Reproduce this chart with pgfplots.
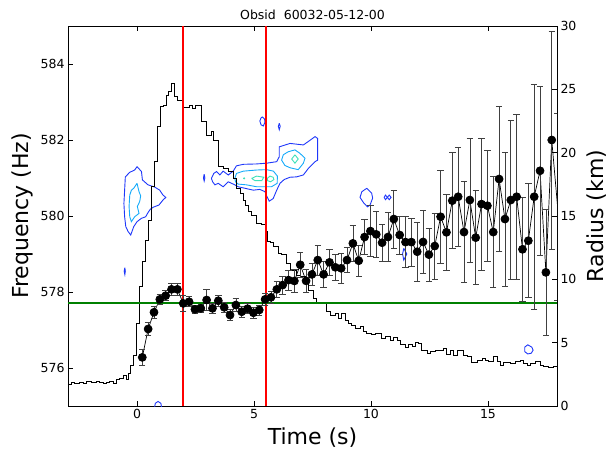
\documentclass[border=0pt]{standalone}
\usepackage{fontspec}
\setmainfont{DejaVu Sans}
\usepackage{pgfplots}
\usepackage{pgfplotstable}
\pgfplotsset{compat=1.18}

\definecolor{cblue}{RGB}{30,55,250}
\definecolor{ccyan}{RGB}{20,170,250}
\definecolor{cteal}{RGB}{60,225,185}
\definecolor{lgreen}{RGB}{0,128,0}
\definecolor{lred}{RGB}{255,0,0}

% light curve (scaled into frequency units), bin start times
\pgfplotstableread{
t f
-2.95 575.57
-2.80 575.61
-2.67 575.60
-2.45 575.62
-2.30 575.60
-2.17 575.64
-1.95 575.62
-1.74 575.64
-1.60 575.62
-1.45 575.60
-1.30 575.61
-1.17 575.64
-1.03 575.60
-0.88 575.70
-0.74 575.74
-0.60 575.80
-0.46 575.70
-0.39 575.86
-0.265 576.08
-0.14 576.34
-0.015 577.18
0.11 578.14
0.235 578.80
0.36 579.37
0.485 579.89
0.61 580.77
0.735 581.43
0.86 582.35
0.985 582.88
1.11 582.92
1.235 583.18
1.36 583.27
1.485 583.49
1.61 583.14
1.735 583.05
1.86 583.05
1.985 582.86
2.11 582.86
2.235 582.90
2.36 582.83
2.485 582.92
2.61 582.92
2.75 582.48
2.97 582.13
3.18 582.22
3.25 582.00
3.47 581.30
3.68 581.25
3.90 581.17
4.11 580.99
4.23 580.73
4.40 580.60
4.54 580.42
4.61 580.29
4.75 580.11
4.90 580.03
5.11 579.81
5.32 579.78
5.47 579.59
5.57 579.32
5.68 579.30
5.82 579.19
6.04 579.02
6.18 579.00
6.39 578.75
6.54 578.58
6.82 578.45
6.97 578.42
7.18 578.23
7.32 578.05
7.54 577.83
7.68 577.74
8.11 577.48
8.25 577.39
8.46 577.44
8.61 577.31
8.75 577.44
8.89 577.26
9.03 577.18
9.18 577.13
9.32 577.04
9.53 577.09
9.68 576.96
9.82 576.91
10.03 576.89
10.18 576.91
10.46 576.78
10.61 576.84
10.82 576.74
10.96 576.81
11.11 576.74
11.25 576.61
11.46 576.54
11.61 576.61
11.75 576.56
11.89 576.67
12.03 576.65
12.17 576.47
12.39 576.39
12.53 576.43
12.74 576.47
12.89 576.46
13.10 576.52
13.24 576.37
13.39 576.46
13.53 576.34
13.67 576.47
13.81 576.46
13.96 576.32
14.10 576.30
14.31 576.14
14.53 576.21
14.74 576.25
14.88 576.21
15.03 576.17
15.24 576.30
15.38 576.17
15.53 576.08
15.67 576.14
15.96 576.12
16.17 576.17
16.38 576.21
16.53 576.12
16.67 576.08
16.81 576.12
17.03 576.17
17.24 576.08
17.38 576.04
17.60 576.02
17.81 576.05
18.00 576.05
}\lcurve

% radius with errors
\pgfplotstableread{
t r e
0.225 3.84 0.6
0.475 6.08 0.5
0.725 7.40 0.45
0.975 8.42 0.4
1.225 8.71 0.4
1.475 9.21 0.45
1.725 9.21 0.45
1.975 8.10 0.6
2.225 8.23 0.4
2.475 7.63 0.35
2.725 7.71 0.35
2.975 8.37 0.8
3.225 7.71 0.4
3.475 8.31 0.45
3.725 7.79 0.4
3.975 7.18 0.45
4.225 7.97 0.5
4.475 7.44 0.45
4.725 7.68 0.4
4.975 7.36 0.45
5.225 7.58 0.4
5.475 8.42 0.5
5.725 8.58 0.5
5.975 9.21 0.6
6.225 9.55 0.7
6.475 9.94 0.8
6.725 9.87 0.9
6.975 11.15 1.0
7.225 9.88 0.9
7.475 10.39 0.9
7.725 11.52 1.2
7.975 10.39 1.0
8.225 11.34 1.0
8.475 10.95 1.05
8.725 10.87 1.2
8.975 11.52 1.0
9.225 12.84 1.4
9.475 11.47 1.25
9.725 13.34 1.4
9.975 13.81 2.0
10.225 13.55 1.8
10.475 12.89 1.45
10.725 13.34 1.95
10.975 14.76 2.3
11.225 13.50 1.5
11.475 12.94 2.0
11.725 12.94 1.9
11.975 12.18 2.3
12.225 12.95 2.5
12.475 11.95 2.1
12.725 12.63 2.6
12.975 14.94 3.7
13.225 13.71 3.0
13.475 16.21 3.8
13.725 16.52 3.9
13.975 13.73 4.0
14.225 16.26 4.9
14.475 13.29 3.7
14.725 15.94 5.2
14.975 15.81 4.4
15.225 13.73 4.4
15.475 17.92 5.7
15.725 14.76 5.3
15.975 16.26 6.3
16.225 16.52 6.5
16.475 12.37 4.1
16.725 13.05 4.5
16.975 16.52 8.9
17.225 18.57 6.7
17.475 10.55 5.0
17.725 21.00 8.6
17.975 15.73 7.4
}\radius

\pgfplotsset{
  base/.style={
    scale only axis, width=489pt, height=380pt,
    xmin=-2.95, xmax=17.95,
    tick align=inside, major tick length=5pt,
    axis line style={line width=0.8pt},
    every tick/.style={black, line width=0.8pt},
    tick label style={font=\fontsize{12.5}{14}\selectfont},
    label style={font=\fontsize{22}{24}\selectfont},
    /pgf/number format/assume math mode=true,
  }
}

\begin{document}
\begin{tikzpicture}
\path[use as bounding box] (-68pt,-44pt) rectangle (541pt,406pt);
\begin{axis}[base,
  ymin=575, ymax=585,
  ytick={576,578,580,582,584}, xtick={0,5,10,15},
  ytick pos=left,
  xlabel={Time (s)}, ylabel={Frequency (Hz)},
  xlabel style={at={(axis description cs:0.5,-0.082)}, anchor=center},
  ylabel style={at={(axis description cs:-0.094,0.5)}, anchor=center},
  title={Obsid\ \ 60032-05-12-00},
  title style={font=\fontsize{12.5}{14}\selectfont, yshift=-3pt},
]
% contours (outer blue)
\addplot[cblue, line width=0.9pt] coordinates {(0.00,581.30) (0.19,581.17) (0.23,580.95) (0.47,580.82) (0.76,580.76) (0.97,580.68) (1.11,580.55) (1.23,580.49) (1.11,580.42) (0.94,580.29) (0.69,580.23) (0.57,580.18) (0.47,580.09) (0.37,579.98) (0.19,579.94) (0.00,579.85) (-0.14,579.72) (-0.27,579.50) (-0.38,579.59) (-0.48,579.72) (-0.53,579.98) (-0.56,580.33) (-0.53,580.68) (-0.50,581.03) (-0.31,581.15) (-0.10,581.21) (0.00,581.30)};
\addplot[cblue, line width=0.9pt] coordinates {(3.18,580.99) (3.28,581.12) (3.40,581.17) (3.54,581.08) (3.68,581.18) (3.90,581.08) (4.11,581.18) (4.25,581.32) (4.54,581.36) (5.11,581.37) (5.54,581.39) (5.97,581.43) (6.08,581.56) (6.08,581.82) (6.54,581.91) (7.11,581.87) (7.32,581.96) (7.61,582.09) (7.72,582.04) (7.72,581.47) (7.61,581.43) (7.32,581.25) (7.11,581.08) (6.82,581.03) (6.54,581.02) (6.29,580.96) (6.11,580.86) (5.97,580.68) (5.82,580.46) (5.65,580.39) (5.54,580.53) (5.47,580.64) (5.25,580.70) (4.97,580.68) (4.61,580.73) (4.32,580.77) (4.18,580.82) (3.90,580.90) (3.68,580.77) (3.47,580.86) (3.33,580.82) (3.23,580.90) (3.18,580.99)};
\addplot[cblue, line width=0.9pt] coordinates {(-0.52,578.64) (-0.50,578.55) (-0.52,578.46) (-0.55,578.55) (-0.52,578.64)};
\addplot[cblue, line width=0.9pt] coordinates {(2.87,581.10) (2.90,581.00) (2.87,580.92) (2.84,581.00) (2.87,581.10)};
\addplot[cblue, line width=0.9pt] coordinates {(5.36,582.61) (5.45,582.55) (5.47,582.47) (5.40,582.37) (5.30,582.40) (5.25,582.50) (5.30,582.58) (5.36,582.61)};
\addplot[cblue, line width=0.9pt] coordinates {(6.08,582.44) (6.12,582.36) (6.08,582.27) (6.04,582.36) (6.08,582.44)};
\addplot[cblue, line width=0.9pt] coordinates {(9.82,580.73) (10.03,580.60) (10.07,580.47) (9.96,580.29) (9.85,580.24) (9.68,580.35) (9.53,580.49) (9.61,580.64) (9.82,580.73)};
\addplot[cblue, line width=0.9pt] coordinates {(10.56,580.49) (10.62,580.55) (10.70,580.49) (10.78,580.55) (10.86,580.49) (10.78,580.43) (10.70,580.49) (10.62,580.43) (10.56,580.49)};
\addplot[cblue, line width=0.9pt] coordinates {(11.40,579.15) (11.53,579.00) (11.40,578.84) (11.35,579.00) (11.40,579.15)};
\addplot[cblue, line width=0.9pt] coordinates {(16.70,576.61) (16.87,576.55) (16.93,576.47) (16.85,576.39) (16.70,576.37) (16.57,576.43) (16.57,576.55) (16.70,576.61)};
\addplot[cblue, line width=0.9pt] coordinates {(0.75,574.95) (0.78,575.07) (0.90,575.12) (1.02,575.07) (1.05,574.95)};
% contours (middle cyan)
\addplot[ccyan, line width=0.9pt] coordinates {(0.00,580.86) (0.085,580.64) (0.157,580.53) (0.114,580.38) (0.014,580.25) (0.085,580.07) (-0.10,579.98) (-0.24,579.85) (-0.31,579.98) (-0.34,580.25) (-0.31,580.55) (-0.24,580.68) (-0.14,580.73) (0.00,580.86)};
\addplot[ccyan, line width=0.9pt] coordinates {(4.18,580.99) (4.25,581.12) (4.54,581.18) (5.11,581.21) (5.54,581.22) (5.83,581.18) (6.00,581.05) (5.99,580.86) (5.75,580.77) (5.47,580.77) (5.11,580.77) (4.68,580.82) (4.32,580.84) (4.21,580.90) (4.18,580.99)};
\addplot[ccyan, line width=0.9pt] coordinates {(6.25,581.61) (6.46,581.69) (6.75,581.74) (6.96,581.65) (7.18,581.52) (7.11,581.39) (6.89,581.22) (6.54,581.27) (6.32,581.33) (6.18,581.47) (6.25,581.61)};
% contours (inner)
\addplot[cteal, line width=0.9pt] coordinates {(4.90,580.99) (5.11,581.05) (5.42,581.02) (5.33,580.93) (5.04,580.93) (4.90,580.99)};
\addplot[cteal, line width=0.9pt] coordinates {(5.57,580.99) (5.68,581.05) (5.82,581.02) (5.85,580.96) (5.71,580.90) (5.58,580.93) (5.57,580.99)};
\addplot[cteal, line width=0.9pt] coordinates {(6.75,581.61) (6.89,581.50) (6.75,581.39) (6.61,581.50) (6.75,581.61)};
\addplot[cteal, only marks, mark=*, mark size=0.8pt] coordinates {(4.58,580.99)};
% light curve
\addplot[black, line width=0.7pt, const plot] table[x=t, y=f] {\lcurve};
% markers of the two intervals and the reference frequency
\addplot[draw=lred, line width=2pt, no marks] coordinates {(1.97,575) (1.97,585)};
\addplot[draw=lred, line width=2pt, no marks] coordinates {(5.50,575) (5.50,585)};
\addplot[draw=lgreen, line width=2pt, no marks] coordinates {(-2.95,577.72) (17.95,577.72)};
\end{axis}

\begin{axis}[base,
  ymin=0, ymax=30, ytick={0,5,...,30},
  axis y line*=right, axis x line=none,
  ylabel={Radius (km)},
  ylabel style={at={(axis description cs:1.08,0.5)}, anchor=center},
]
\addplot[black, line width=0.7pt, mark=*, mark size=4pt,
  mark options={fill=black},
  error bars/.cd, y dir=both, y explicit,
  error bar style={black!75, line width=0.7pt},
  error mark options={rotate=90, black!75, mark size=3.2pt, line width=0.7pt}]
  table[x=t, y=r, y error=e] {\radius};
\end{axis}
\end{tikzpicture}
\end{document}
